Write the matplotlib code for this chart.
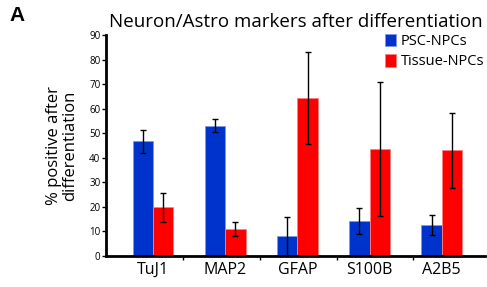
import numpy as np
import matplotlib
matplotlib.use("Agg")
import matplotlib.pyplot as plt

markers = ["TuJ1", "MAP2", "GFAP", "S100B", "A2B5"]
psc_mean = [46.7, 53.0, 8.0, 14.3, 12.5]
psc_err = [4.6, 2.6, 8.0, 5.4, 4.1]
tissue_mean = [19.8, 11.0, 64.4, 43.4, 43.0]
tissue_err = [5.8, 3.0, 18.7, 27.3, 15.4]

plt.rcParams['font.family'] = ['Open Sans', 'DejaVu Sans']

fig = plt.figure(figsize=(4.87, 2.87), dpi=100)
ax = fig.add_axes([0.2177, 0.108, 0.778, 0.770])

x = np.arange(len(markers))
w = 0.28
ekw = dict(elinewidth=1, capsize=2.5, capthick=1, ecolor="black")
ax.bar(x - w/2, psc_mean, w, yerr=psc_err, color="#0033cc",
       edgecolor="#7f99e6", linewidth=0.6, error_kw=ekw, label="PSC-NPCs")
ax.bar(x + w/2, tissue_mean, w, yerr=tissue_err, color="#ff0000",
       edgecolor="#ff8080", linewidth=0.6, error_kw=ekw, label="Tissue-NPCs")

# y axis
ax.set_ylim(0, 90)
ax.set_yticks(np.arange(0, 91, 10))
ax.tick_params(axis="y", labelsize=7, length=3, width=1, pad=1)

# x axis: labels at bar pairs, separator ticks in between
left = -0.655
step = 1.066
ax.set_xlim(left, 4.6)
ax.set_xticks(x)
ax.set_xticklabels(markers, fontsize=11.5)
ax.tick_params(axis="x", length=0, pad=4)
ax.set_xticks([left + step * k for k in range(1, 5)], minor=True)
ax.tick_params(axis="x", which="minor", length=3, width=1, direction="out")

for s in ["top", "right"]:
    ax.spines[s].set_visible(False)
for s in ["left", "bottom"]:
    ax.spines[s].set_linewidth(2)

ax.set_ylabel("% positive after\ndifferentiation", fontsize=12, labelpad=8,
              linespacing=1.0)
fig.text(0.607, 0.925, "Neuron/Astro markers after differentiation",
         ha="center", va="center", fontsize=13.5)
fig.text(0.02, 0.945, "A", fontsize=15, fontweight="bold", ha="left", va="center",
         family="Liberation Sans")

ax.legend(loc="upper left", bbox_to_anchor=(0.72, 1.03), frameon=False,
          fontsize=10.5, handlelength=0.8, handleheight=0.9, handletextpad=0.3,
          labelspacing=0.35, borderaxespad=0)

fig.savefig("out.png", dpi=100)
